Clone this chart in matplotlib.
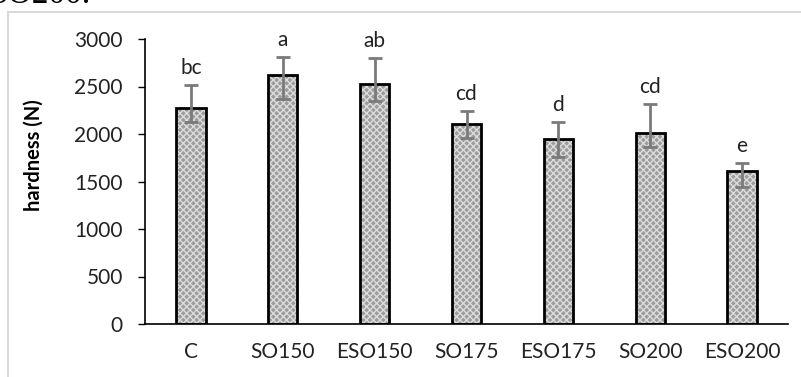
import matplotlib.pyplot as plt
from matplotlib.patches import Rectangle

# Data
treatments = ['C', 'SO150', 'ESO150', 'SO175', 'ESO175', 'SO200', 'ESO200']
hardness = [2270, 2622, 2527, 2103, 1945, 2007, 1610]
err_upper = [245, 193, 272, 140, 183, 306, 83]
err_lower = [140, 255, 178, 147, 182, 146, 163]
letters = ['bc', 'a', 'ab', 'cd', 'd', 'cd', 'e']
y_ticks = [0, 500, 1000, 1500, 2000, 2500, 3000]

W, H = 801, 377
plt.rcParams['font.family'] = ['Lato', 'DejaVu Sans']

fig = plt.figure(figsize=(W / 100, H / 100), dpi=100)

# light frame from the original document
fig.patches.append(Rectangle((8 / W, -0.1), 1.2, 1.1 - 12 / H,
                             transform=fig.transFigure, fill=False,
                             edgecolor='#d9d9d9', linewidth=1.5))
# cut-off caption text at the top
fig.text(-10 / W, 1 - 3 / H, 'SO200.', family='Liberation Serif', fontsize=24,
         va='baseline', ha='left', color='black')

ax = fig.add_axes([145 / W, 1 - 324 / H, (788 - 145) / W, (324 - 39) / H])
x = range(len(treatments))

# hatched fill, then black outline
ax.bar(x, hardness, width=0.32, color='#9c9c9c', edgecolor='#dcdcdc',
       hatch='xxxxx', linewidth=0, zorder=2)
ax.bar(x, hardness, width=0.32, color='none', edgecolor='black',
       linewidth=2, zorder=3)
ax.errorbar(x, hardness, yerr=[err_lower, err_upper], fmt='none',
            ecolor='#7a7a7a', elinewidth=2, capsize=5, capthick=2, zorder=4)

for i, lab in enumerate(letters):
    ax.annotate(lab, (i, hardness[i] + err_upper[i]), xytext=(0, 5),
                textcoords='offset points', ha='center', va='bottom',
                fontsize=15, color='#222222')

ax.set_xlim(-0.5, len(treatments) - 0.5)
ax.set_ylim(0, 3000)
ax.set_yticks(y_ticks)
ax.set_xticks(list(x))
ax.set_xticklabels(treatments)
ax.tick_params(axis='y', length=5, width=1, pad=11, labelsize=15,
               labelcolor='#222222')
ax.tick_params(axis='x', length=0, pad=13, labelsize=15,
               labelcolor='#222222')
for s in ['top', 'right']:
    ax.spines[s].set_visible(False)
for s in ['left', 'bottom']:
    ax.spines[s].set_linewidth(1.2)
    ax.spines[s].set_color('black')

fig.text(34 / W, 1 - 155 / H, 'hardness (N)', rotation=90, ha='center',
         va='center', fontsize=14.5, fontweight='bold', color='black')

fig.savefig('out.png', dpi=100)
